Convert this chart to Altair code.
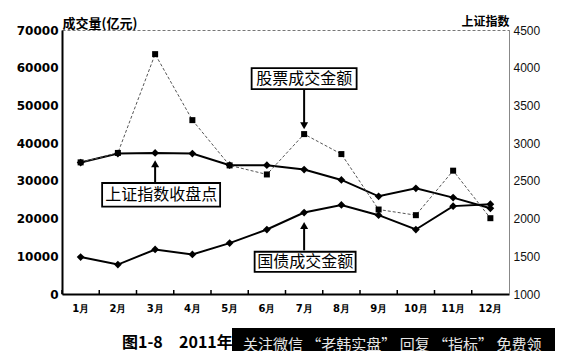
import altair as alt
import pandas as pd

months = ["1月", "2月", "3月", "4月", "5月", "6月", "7月", "8月", "9月", "10月", "11月", "12月"]
stock_volume = [34900, 37400, 63600, 46100, 34100, 31700, 42400, 37100, 22400, 20900, 32700, 20100]
bond_volume = [9800, 7800, 11800, 10500, 13500, 17100, 21600, 23600, 20900, 17100, 23300, 23800]
sh_index = [2743, 2862, 2870, 2862, 2707, 2707, 2650, 2512, 2295, 2401, 2278, 2136]

df = pd.DataFrame({"month": months, "stock": stock_volume, "bond": bond_volume, "index": sh_index})

CJK = "Noto Sans CJK SC"
W, H = 447, 264

x_axis = alt.Axis(title=None, labelAngle=0, labelFont="DejaVu Sans", labelFontWeight="bold",
                  labelFontSize=10, labelColor="black", labelPadding=9, ticks=False,
                  domainColor="black", domainWidth=2, grid=False)
x_scale = alt.Scale(type="band", paddingInner=0, paddingOuter=0)


def xenc(pos=0.5):
    return alt.X("month:N", sort=months, bandPosition=pos, scale=x_scale, axis=x_axis)


left_scale = alt.Scale(domain=[0, 70000], nice=False, zero=False)
right_scale = alt.Scale(domain=[1000, 4500], nice=False, zero=False)

left_axis = alt.Axis(
    orient="left", title="成交量(亿元)", values=list(range(0, 70001, 10000)), format="d",
    labelFont="DejaVu Sans", labelFontWeight="bold", labelFontSize=12, labelColor="black",
    labelPadding=4, tickSize=0, domainColor="black", domainWidth=2, grid=False,
    titleAngle=0, titleAlign="left", titleX=0, titleY=-3, titleBaseline="alphabetic",
    titleFont=CJK, titleFontSize=13, titleFontWeight="bold", titleColor="black",
)
right_axis = alt.Axis(
    orient="right", title="上证指数", values=list(range(1000, 4501, 500)), format="d",
    labelFont="Liberation Sans", labelFontSize=12, labelColor="#111", labelPadding=4,
    tickSize=0, domainColor="#888", domainWidth=1, grid=False,
    titleAngle=0, titleAlign="right", titleX=0, titleY=-5, titleBaseline="alphabetic",
    titleFont=CJK, titleFontSize=12, titleFontWeight="bold", titleColor="black",
)


def yl(field):
    return alt.Y(field, scale=left_scale, axis=left_axis)


def yr(field):
    return alt.Y(field, scale=right_scale, axis=right_axis)


base = alt.Chart(df)

# right-scale layer (Shanghai index)
index_line = base.mark_line(color="black", strokeWidth=2).encode(x=xenc(), y=yr("index:Q"))
index_pts = base.mark_point(shape="diamond", size=60, filled=True, color="black", opacity=1).encode(
    x=xenc(), y=yr("index:Q"))
index_layer = alt.layer(index_line, index_pts)

# inward-pointing x ticks at the month boundaries
x_ticks = base.mark_rule(color="black", strokeWidth=1.5).encode(
    x=xenc(0), y=alt.value(H - 4), y2=alt.value(H))

# left-scale layers
stock_line = base.mark_line(color="#555", strokeWidth=1, strokeDash=[3, 2]).encode(x=xenc(), y=yl("stock:Q"))
stock_pts = base.mark_point(shape="square", size=36, filled=True, color="black", opacity=1).encode(
    x=xenc(), y=yl("stock:Q"))
bond_line = base.mark_line(color="black", strokeWidth=2).encode(x=xenc(), y=yl("bond:Q"))
bond_pts = base.mark_point(shape="diamond", size=60, filled=True, color="black", opacity=1).encode(
    x=xenc(), y=yl("bond:Q"))

BOX = "M-1,-0.2H1V0.2H-1Z"


def callout(label, month, y_box, y_tail, y_head, head, box_w, dx):
    d = pd.DataFrame({"month": [month], "label": [label], "yb": [y_box], "yt": [y_tail], "yh": [y_head]})
    c = alt.Chart(d)
    rule = c.mark_rule(color="black", strokeWidth=2).encode(x=xenc(), y=yl("yt:Q"), y2="yh:Q")
    tip = c.mark_point(shape=head, size=64, filled=True, color="black", opacity=1).encode(
        x=xenc(), y=yl("yh:Q"))
    box = c.mark_point(shape=BOX, size=box_w * box_w, filled=True, fill="white", stroke="black",
                       strokeWidth=1.8, opacity=1, xOffset=dx).encode(x=xenc(), y=yl("yb:Q"))
    txt = c.mark_text(font=CJK, fontSize=16, color="black", baseline="middle", align="center", dx=dx).encode(
        x=xenc(), y=yl("yb:Q"), text="label:N")
    return [rule, tip, box, txt]


callouts = (
    callout("股票成交金额", "7月", 57120, 54330, 44630, "triangle-down", 105, 0)
    + callout("上证指数收盘点", "3月", 26300, 29360, 34540, "triangle-up", 118, 6)
    + callout("国债成交金额", "7月", 8530, 11560, 18150, "triangle-up", 101, 1)
)

caption_df = pd.DataFrame({"a": ["图1-8"], "b": ["2011年"]})
cap_a = alt.Chart(caption_df).mark_text(font=CJK, fontSize=16, fontWeight="bold", color="black",
                                         align="left", baseline="middle").encode(
    x=alt.value(60), y=alt.value(313), text="a:N")
cap_b = alt.Chart(caption_df).mark_text(font=CJK, fontSize=16, fontWeight="bold", color="black",
                                         align="left", baseline="middle").encode(
    x=alt.value(117), y=alt.value(313), text="b:N")

banner_df = pd.DataFrame({"t": ["关注微信 “老韩实盘” 回复 “指标” 免费领"]})
banner = alt.Chart(banner_df).mark_rect(color="black").encode(
    x=alt.value(170), x2=alt.value(520), y=alt.value(298), y2=alt.value(340))
banner_text = alt.Chart(banner_df).mark_text(font=CJK, fontSize=15, color="#e6e6e6", align="left",
                                              baseline="middle").encode(
    x=alt.value(181), y=alt.value(315), text="t:N")

left_layer = alt.layer(x_ticks, stock_line, bond_line, stock_pts, bond_pts, *callouts,
                       cap_a, cap_b, banner, banner_text)

chart = alt.layer(index_layer, left_layer).resolve_scale(y="independent").properties(
    width=W, height=H,
    autosize=alt.AutoSizeParams(type="none"),
    padding={"left": 54, "top": 22, "right": 46, "bottom": 57},
).configure_view(stroke="#777", strokeDash=[3, 2], strokeWidth=1)

chart.save("out.html", embed_options={"renderer": "svg", "actions": False})
